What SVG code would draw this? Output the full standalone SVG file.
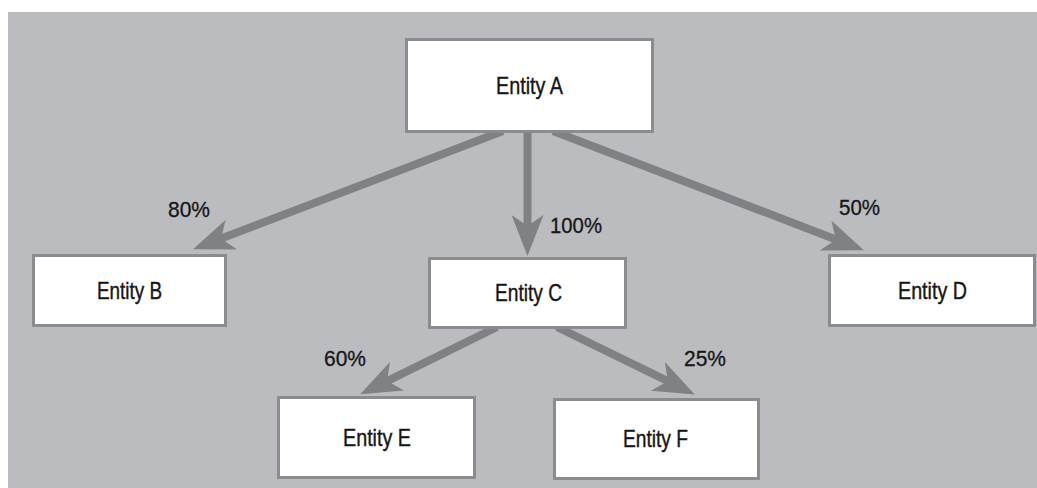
<svg xmlns="http://www.w3.org/2000/svg" width="1037" height="488" viewBox="0 0 1037 488">
  <style>
    .box { fill: #ffffff; stroke: #8b8c90; stroke-width: 3; }
    .label { font-family: "Liberation Sans", Arial, sans-serif; font-size: 24px; fill: #161616; stroke: #161616; stroke-width: 0.4; text-anchor: middle; }
    .pct { font-family: "Liberation Sans", Arial, sans-serif; font-size: 22px; fill: #161616; stroke: #161616; stroke-width: 0.3; }
    .link { stroke: #808185; stroke-width: 8; fill: none; marker-end: url(#head); }
  </style>
  <defs>
    <marker id="head" markerUnits="userSpaceOnUse" orient="auto" refX="0" refY="0" markerWidth="80" markerHeight="40" overflow="visible">
      <path d="M30,0 L-11,-16 L0,0 L-11,16 Z" fill="#808185"/>
    </marker>
  </defs>

  <!-- backdrop -->
  <rect x="8" y="12" width="1029" height="476" fill="#bbbcc0"/>

  <!-- connectors -->
  <g id="connectors">
    <line class="link" x1="503" y1="131" x2="221.1" y2="238.5"/>
    <line class="link" x1="527.5" y1="131" x2="527.5" y2="226"/>
    <line class="link" x1="553" y1="131" x2="835.9" y2="239.4"/>
    <line class="link" x1="497" y1="327" x2="387.1" y2="381.1"/>
    <line class="link" x1="557" y1="327" x2="667.8" y2="381.2"/>
    <text class="pct" x="168" y="217" textLength="42" lengthAdjust="spacingAndGlyphs">80%</text>
    <text class="pct" x="550" y="233" textLength="52" lengthAdjust="spacingAndGlyphs">100%</text>
    <text class="pct" x="839" y="215" textLength="41" lengthAdjust="spacingAndGlyphs">50%</text>
    <text class="pct" x="324" y="366" textLength="42" lengthAdjust="spacingAndGlyphs">60%</text>
    <text class="pct" x="684" y="366" textLength="42" lengthAdjust="spacingAndGlyphs">25%</text>
  </g>

  <!-- entities -->
  <g id="entity-a">
    <rect class="box" x="406.5" y="39.5" width="246" height="92"/>
    <text class="label" x="529.5" y="94" textLength="67" lengthAdjust="spacingAndGlyphs">Entity A</text>
  </g>
  <g id="entity-b">
    <rect class="box" x="33.5" y="255.5" width="192" height="70"/>
    <text class="label" x="129.5" y="299" textLength="65" lengthAdjust="spacingAndGlyphs">Entity B</text>
  </g>
  <g id="entity-c">
    <rect class="box" x="429.5" y="258.5" width="196" height="69"/>
    <text class="label" x="528.5" y="301" textLength="67" lengthAdjust="spacingAndGlyphs">Entity C</text>
  </g>
  <g id="entity-d">
    <rect class="box" x="829.5" y="255.5" width="205" height="70"/>
    <text class="label" x="932.5" y="299" textLength="69" lengthAdjust="spacingAndGlyphs">Entity D</text>
  </g>
  <g id="entity-e">
    <rect class="box" x="278.5" y="397.5" width="196" height="80"/>
    <text class="label" x="377" y="446" textLength="68" lengthAdjust="spacingAndGlyphs">Entity E</text>
  </g>
  <g id="entity-f">
    <rect class="box" x="554.5" y="399.5" width="204" height="79"/>
    <text class="label" x="655.5" y="447" textLength="65" lengthAdjust="spacingAndGlyphs">Entity F</text>
  </g>
</svg>
